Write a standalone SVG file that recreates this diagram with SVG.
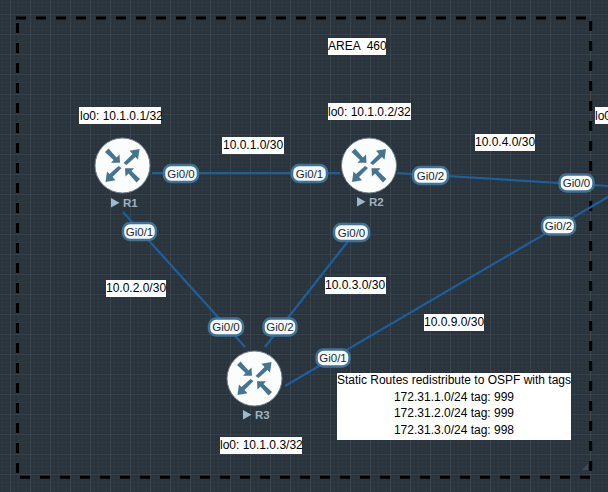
<svg xmlns="http://www.w3.org/2000/svg" width="608" height="492" viewBox="0 0 608 492">
<style>
text{font-family:"Liberation Sans",Arial,sans-serif;font-size:12px;fill:#000}
.lb{fill:#fff}
.c{text-anchor:middle}
.link{stroke:#1c5f9f;stroke-width:2.2;fill:none}
.pill{fill:#f4f9fd;stroke:#3f7396;stroke-width:2.500}
text.pt{font-size:11.500px;text-anchor:middle;fill:#1c2a33}
text.nm{font-size:11.500px;font-weight:bold;fill:#9fb1bf}
.tri{fill:#9fb9cc}
.body{fill:#fbfcfc;stroke:#6d7f8c;stroke-width:1}
.arr{fill:#44748f}
.dash{fill:none;stroke:#000;stroke-width:3;stroke-dasharray:10 10}
</style>
<defs>
<pattern id="gm" width="4" height="4" patternUnits="userSpaceOnUse" x="10" y="14"><path d="M4 0H0V4" fill="none" stroke="#2f3a43" stroke-width="1"/></pattern>
<pattern id="gM" width="20" height="20" patternUnits="userSpaceOnUse" x="10" y="14"><path d="M20 0H0V20" fill="none" stroke="#404c55" stroke-width="1.200"/></pattern>
<g id="router">
<circle class="body" r="27.500"/>
<path id="ain" class="arr" d="M-2.500-2.700L-3-11L-6-8L-14-17L-17.500-13.500L-9-5.500L-11.500-2.700Z"/>
<path id="aout" class="arr" d="M17-16.500L7-14.800L10-11.500L1-2.500L4-0.500L13-8.500L15.500-6Z"/>
<use href="#ain" transform="rotate(180)"/>
<use href="#aout" transform="rotate(180)"/>
</g>
</defs>
<rect width="608" height="492" fill="#2a343d"/>
<rect width="608" height="492" fill="url(#gm)"/>
<rect width="608" height="492" fill="url(#gM)"/>
<g id="area">
<path class="dash" d="M16 18H591"/>
<path class="dash" d="M17.500 23V477"/>
<path class="dash" d="M590.700 21V477"/>
<path class="dash" d="M20 477.300H590"/>
</g>
<path d="M582 470l6-6v6z" fill="#4a555e" opacity=".7"/>
<g id="connectors">
<path class="link" d="M152 173H340"/>
<path class="link" d="M123 212L245 347"/>
<path class="link" d="M360 226L265 347"/>
<path class="link" d="M397 173L608 186"/>
<path class="link" d="M285 386L608 197"/>
</g>
<g id="labels">
<g><rect class="lb" x="328" y="38" width="58" height="17"/><text x="328" y="50" xml:space="preserve">AREA  460</text></g>
<g><rect class="lb" x="79" y="107" width="82" height="17"/><text x="80" y="120">lo0: 10.1.0.1/32</text></g>
<g><rect class="lb" x="328" y="103" width="83" height="17"/><text x="328" y="116">lo0: 10.1.0.2/32</text></g>
<g><rect class="lb" x="595" y="107" width="13" height="17"/><text x="595" y="120" font-size="11">lo0</text></g>
<g><rect class="lb" x="222" y="137" width="62" height="17"/><text x="223" y="149">10.0.1.0/30</text></g>
<g><rect class="lb" x="475" y="134" width="60" height="17"/><text x="475" y="146">10.0.4.0/30</text></g>
<g><rect class="lb" x="106" y="280" width="60" height="17"/><text x="106" y="292">10.0.2.0/30</text></g>
<g><rect class="lb" x="325" y="277" width="61" height="17"/><text x="325" y="289">10.0.3.0/30</text></g>
<g><rect class="lb" x="424" y="314" width="60" height="17"/><text x="424" y="326">10.0.9.0/30</text></g>
<g><rect class="lb" x="220" y="437" width="82" height="17"/><text x="220" y="449">lo0: 10.1.0.3/32</text></g>
<g id="static"><rect class="lb" x="337" y="373" width="234" height="67"/>
<text class="c" x="454" y="384">Static Routes redistribute to OSPF with tags</text>
<text class="c" x="454" y="401">172.31.1.0/24 tag: 999</text>
<text class="c" x="454" y="417">172.31.2.0/24 tag: 999</text>
<text class="c" x="454" y="434">172.31.3.0/24 tag: 998</text></g>
</g>
<g id="R1"><use href="#router" x="122.500" y="165.500"/><path class="tri" d="M111 198l8.500 4.700-8.500 4.700z"/><text class="nm" x="123" y="207">R1</text></g>
<g id="R2"><use href="#router" x="369" y="165.500"/><path class="tri" d="M357 197l8.500 4.700-8.500 4.700z"/><text class="nm" x="369" y="206">R2</text></g>
<g id="R3"><use href="#router" x="254.500" y="378.500"/><path class="tri" d="M243 410l8.500 4.700-8.500 4.700z"/><text class="nm" x="255" y="419">R3</text></g>
<g id="ports">
<g><rect class="pill" x="164" y="165" width="34" height="17" rx="7"/><text class="pt" x="181" y="177.500">Gi0/0</text></g>
<g><rect class="pill" x="292" y="165" width="35" height="17" rx="7"/><text class="pt" x="309.500" y="177.500">Gi0/1</text></g>
<g><rect class="pill" x="413" y="167" width="35" height="17" rx="7"/><text class="pt" x="430.500" y="179.500">Gi0/2</text></g>
<g><rect class="pill" x="123" y="223" width="33" height="17" rx="7"/><text class="pt" x="139.500" y="236">Gi0/1</text></g>
<g><rect class="pill" x="334" y="224" width="35" height="17" rx="7"/><text class="pt" x="351.500" y="236.500">Gi0/0</text></g>
<g><rect class="pill" x="559.500" y="174.500" width="34" height="17" rx="7"/><text class="pt" x="576.500" y="187">Gi0/0</text></g>
<g><rect class="pill" x="542" y="217.500" width="33" height="17" rx="7"/><text class="pt" x="558.500" y="230">Gi0/2</text></g>
<g><rect class="pill" x="209" y="318.500" width="34" height="17" rx="7"/><text class="pt" x="226" y="331">Gi0/0</text></g>
<g><rect class="pill" x="263.500" y="318.500" width="33" height="17" rx="7"/><text class="pt" x="280" y="331">Gi0/2</text></g>
<g><rect class="pill" x="316.500" y="349.500" width="33" height="17" rx="7"/><text class="pt" x="333" y="362">Gi0/1</text></g>
</g>
</svg>
